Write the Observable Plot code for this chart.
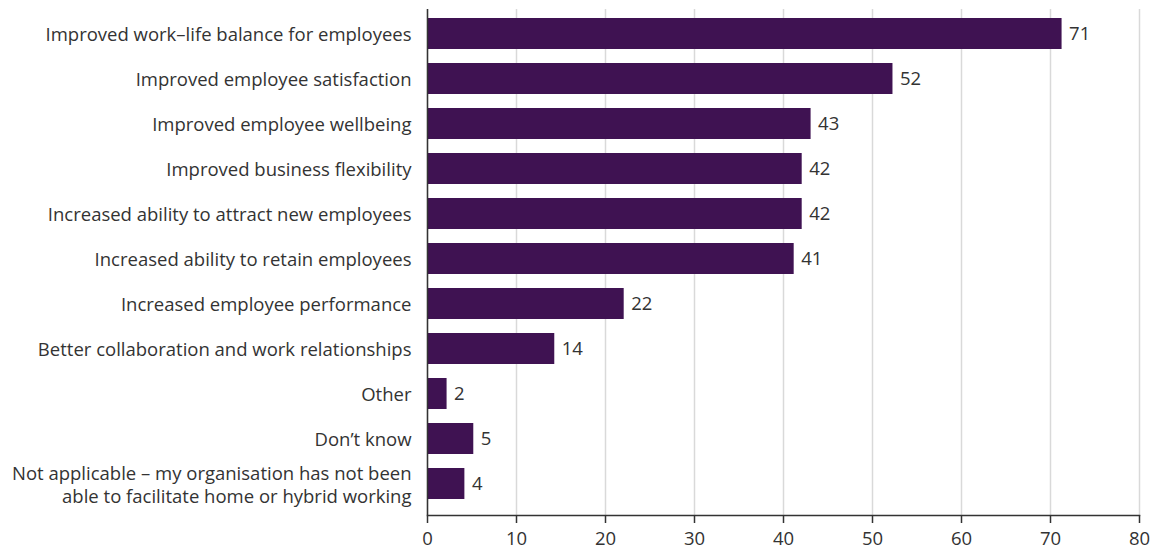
<!DOCTYPE html>
<html>
<head>
<meta charset="utf-8">
<script src="https://cdn.jsdelivr.net/npm/d3@7"></script>
<script src="https://cdn.jsdelivr.net/npm/@observablehq/plot@0.6"></script>
<style>
  html, body { margin: 0; padding: 0; background: #fff; }
  #chart svg { display: block; }
  #chart svg text { font-family: "Open Sans", sans-serif; font-size: 18.5px; }
</style>
</head>
<body>
<div id="chart"></div>
<script>
const categories = [
  "Improved work–life balance for employees",
  "Improved employee satisfaction",
  "Improved employee wellbeing",
  "Improved business flexibility",
  "Increased ability to attract new employees",
  "Increased ability to retain employees",
  "Increased employee performance",
  "Better collaboration and work relationships",
  "Other",
  "Don’t know",
  "Not applicable – my organisation has not been\nable to facilitate home or hybrid working"
];
const values = [71.3, 52.3, 43.1, 42.1, 42.1, 41.2, 22.1, 14.3, 2.2, 5.2, 4.2];
const labels = ["71", "52", "43", "42", "42", "41", "22", "14", "2", "5", "4"];
const xTicks = [0, 10, 20, 30, 40, 50, 60, 70, 80];

const data = categories.map((c, i) => ({category: c, value: values[i], label: labels[i]}));

const font = "'Open Sans', sans-serif";
const textColor = "#333333";

const chart = Plot.plot({
  width: 1160,
  height: 549,
  marginLeft: 427,
  marginRight: 21,
  marginTop: 9,
  marginBottom: 34,
  style: {fontFamily: font, fontSize: "18.5px", color: textColor, background: "#fff"},
  x: {domain: [0, 80], ticks: xTicks},
  y: {domain: categories, range: [16, 501], paddingInner: 0.32, paddingOuter: 0},
  marks: [
    Plot.gridX(xTicks, {stroke: "#d9d9d9", strokeOpacity: 1, strokeWidth: 1.5}),
    Plot.barX(data, {x: "value", y: "category", fill: "#3f1252"}),
    Plot.text(data, {x: "value", y: "category", text: "label", textAnchor: "start", dx: 7, fill: textColor, fontSize: 18.5}),
    Plot.ruleX([0], {stroke: "#333", strokeWidth: 1.5}),
    Plot.frame({anchor: "bottom", stroke: "#333", strokeWidth: 1.5}),
    Plot.axisX(xTicks, {tickSize: 8, tickPadding: 8, fontSize: 18.5, fill: textColor, stroke: "#333", strokeWidth: 1.5, label: null}),
    Plot.axisY({tickSize: 0, tickPadding: 16, fontSize: 18.5, fill: textColor, label: null, lineHeight: 1.25})
  ]
});
document.getElementById("chart").append(chart);
</script>
</body>
</html>
